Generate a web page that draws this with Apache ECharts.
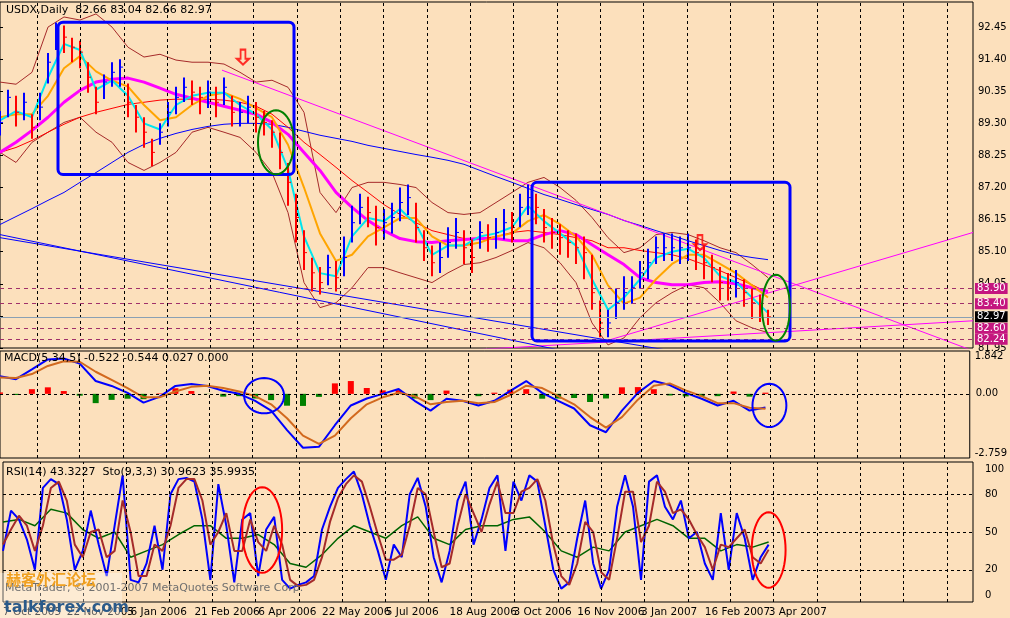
<!DOCTYPE html>
<html><head><meta charset="utf-8">
<script src="https://cdn.jsdelivr.net/npm/echarts@6/dist/echarts.min.js"></script>
<style>html,body{margin:0;padding:0;background:#fce0bc}#c{width:1010px;height:618px}</style>
</head><body><div id="c"></div>
<script>
// ---------- DATA ----------
const dateLabels = ['7 Oct 2005','22 Nov 2005','6 Jan 2006','21 Feb 2006','6 Apr 2006','22 May 2006','5 Jul 2006','18 Aug 2006','3 Oct 2006','16 Nov 2006','3 Jan 2007','16 Feb 2007','3 Apr 2007'];
const barStep = 4;   // price bars sampled every 4 trading days
const lineStep = 8;  // indicator lines sampled every 8 trading days
const closes = [89.33,90.15,89.66,89.99,89.17,89.83,91.30,92.29,92.12,91.79,
91.63,90.81,89.99,90.65,90.97,91.14,89.99,89.50,89.01,88.35,
89.01,89.66,90.15,90.48,90.32,90.15,90.32,89.99,90.48,89.66,
89.66,89.83,89.50,89.33,89.01,88.35,87.37,86.22,85.07,84.41,
84.09,84.58,84.25,84.91,86.05,86.55,86.38,85.89,86.05,86.22,
86.71,86.87,85.89,85.23,84.74,84.91,85.40,85.73,85.23,84.91,
85.73,85.56,85.73,86.05,85.89,86.55,86.87,86.55,85.89,85.73,
85.56,85.40,85.23,85.07,83.76,82.77,82.77,83.43,83.76,83.92,
84.41,84.74,85.23,85.23,85.23,85.23,85.23,85.07,84.74,84.58,
84.09,83.92,84.09,83.76,83.43,83.27,82.97];
const highs = [89.7,90.4,90.2,90.3,89.6,90.3,91.6,92.6,92.5,92.1,
92.0,91.3,90.5,90.9,91.3,91.4,90.6,89.9,89.5,88.8,
89.3,90.0,90.5,90.8,90.7,90.5,90.7,90.5,90.8,90.2,
90.0,90.2,90.0,89.7,89.4,89.0,88.0,87.0,85.8,84.9,
84.6,85.0,84.8,85.6,86.6,87.0,86.9,86.6,86.5,86.7,
87.2,87.3,86.7,85.8,85.3,85.4,85.9,86.2,85.8,85.5,
86.1,86.0,86.2,86.5,86.4,87.0,87.3,87.0,86.5,86.2,
86.0,85.8,85.7,85.6,85.0,83.5,83.2,83.9,84.3,84.3,
84.8,85.2,85.6,85.7,85.7,85.6,85.7,85.5,85.3,85.0,
84.6,84.4,84.5,84.2,83.9,83.7,83.2];
const lows = [88.9,89.5,89.2,89.4,88.8,89.4,90.6,91.7,91.6,91.3,
91.1,90.3,89.6,90.1,90.5,90.5,89.5,89.0,88.5,87.9,
88.6,89.2,89.6,90.0,89.9,89.6,89.8,89.5,89.9,89.2,
89.2,89.3,89.0,88.9,88.5,87.8,86.6,85.4,84.5,83.8,
83.7,84.0,83.8,84.3,85.4,86.0,85.9,85.3,85.5,85.7,
86.1,86.3,85.4,84.8,84.3,84.4,84.9,85.2,84.7,84.4,
85.2,85.1,85.2,85.5,85.4,85.9,86.3,86.0,85.4,85.2,
85.0,84.9,84.7,84.2,83.2,82.3,82.3,82.9,83.2,83.4,
83.9,84.2,84.7,84.8,84.8,84.7,84.8,84.5,84.2,84.1,
83.5,83.5,83.6,83.3,82.9,82.8,82.7];
const maFast = [89.4,89.7,89.5,90.8,91.9,91.7,90.4,90.7,90.2,89.3,89.1,89.9,90.2,90.3,90.3,89.9,89.6,89.1,87.8,85.6,84.4,84.3,85.6,86.2,86.1,86.5,86.0,85.0,85.3,85.3,85.6,85.7,85.9,86.6,86.1,85.7,85.3,84.2,83.2,83.6,84.2,84.9,85.1,85.2,84.9,84.3,84.1,83.6,83.1];
const maMid = [89.5,89.6,89.6,90.2,91.1,91.5,91.0,90.7,90.5,89.9,89.4,89.5,89.9,90.2,90.3,90.1,89.8,89.5,88.6,87.2,85.7,84.8,85.0,85.6,85.9,86.2,86.2,85.6,85.3,85.3,85.4,85.6,85.7,86.1,86.3,86.0,85.6,85.0,84.0,83.4,83.6,84.2,84.7,85.0,85.0,84.7,84.4,84.0,83.6];
const maMagenta = [88.35,88.68,89.07,89.50,89.99,90.38,90.65,90.74,90.78,90.65,90.45,90.25,90.12,89.99,89.86,89.73,89.60,89.33,88.94,88.35,87.76,87.04,86.55,86.12,85.79,85.53,85.43,85.40,85.46,85.50,85.53,85.53,85.46,85.46,85.66,85.79,85.66,85.33,85.00,84.68,84.25,84.09,84.02,84.02,84.09,84.12,84.05,83.92,83.80];
const maRed = [88.35,88.51,88.74,89.01,89.27,89.50,89.66,89.79,89.92,89.99,90.06,90.09,90.09,90.09,90.06,89.99,89.86,89.60,89.17,88.68,88.28,87.86,87.43,87.04,86.64,86.32,86.05,85.79,85.66,85.53,85.53,85.59,85.73,85.79,85.73,85.66,85.56,85.46,85.23,85.23,85.14,85.07,85.00,84.87,84.68,84.48,84.25,84.02,83.76];
const maBlue = [85.99,86.25,86.51,86.78,87.04,87.37,87.69,88.02,88.35,88.61,88.81,88.97,89.10,89.20,89.27,89.30,89.30,89.27,89.17,89.04,88.91,88.81,88.71,88.58,88.48,88.38,88.28,88.19,88.09,87.96,87.76,87.56,87.37,87.17,86.97,86.81,86.64,86.48,86.32,86.12,85.96,85.79,85.63,85.46,85.30,85.14,85.00,84.91,84.84];
const bandUpper = [90.65,90.58,90.97,92.45,92.78,92.68,92.88,92.45,91.79,91.47,91.56,91.37,91.30,91.30,91.24,90.97,90.65,90.71,90.48,89.66,87.04,86.38,87.20,87.37,87.37,87.30,87.20,86.71,86.38,86.32,86.38,86.71,87.04,87.37,87.53,87.20,86.78,86.22,85.56,85.07,85.23,85.66,85.73,85.66,85.46,85.23,85.07,84.68,84.25];
const bandLower = [88.35,88.02,88.68,89.01,89.33,89.50,89.01,88.68,88.02,87.76,88.02,88.35,89.01,89.17,89.01,88.84,88.35,87.69,86.38,84.09,83.27,83.43,83.92,84.58,84.58,84.41,84.25,84.09,84.41,84.68,84.74,84.91,85.14,85.40,85.23,84.74,84.09,82.77,82.05,82.28,82.94,83.43,83.76,84.02,83.92,83.43,82.84,82.61,82.45];
const macdLine = [0.76,0.63,1.05,1.48,1.52,1.30,0.55,0.34,0.04,-0.38,-0.13,0.34,0.42,0.34,0.13,0.00,-0.30,-0.72,-1.56,-2.32,-2.28,-1.35,-0.50,-0.20,0.00,0.21,-0.30,-0.72,-0.21,-0.30,-0.50,-0.30,0.13,0.55,0.04,-0.30,-0.63,-1.35,-1.65,-0.72,0.04,0.55,0.38,0.04,-0.21,-0.50,-0.30,-0.72,-0.59];
const macdSignal = [0.70,0.68,0.85,1.20,1.40,1.38,0.95,0.60,0.25,-0.15,-0.15,0.10,0.30,0.35,0.25,0.10,-0.10,-0.45,-1.05,-1.80,-2.15,-1.80,-1.05,-0.45,-0.15,0.05,-0.10,-0.45,-0.35,-0.30,-0.40,-0.35,-0.05,0.35,0.25,-0.10,-0.45,-1.00,-1.45,-1.00,-0.25,0.35,0.45,0.15,-0.10,-0.40,-0.40,-0.60,-0.64];
const macdHist = [0.06,-0.05,0.20,0.28,0.12,-0.08,-0.40,-0.26,-0.21,-0.23,0.02,0.24,0.12,-0.01,-0.12,-0.10,-0.20,-0.27,-0.51,-0.52,-0.13,0.45,0.55,0.25,0.15,0.16,-0.20,-0.27,0.14,0.00,-0.10,0.05,0.18,0.20,-0.21,-0.20,-0.18,-0.35,-0.20,0.28,0.29,0.20,-0.07,-0.11,-0.11,-0.10,0.10,-0.12,0.05];
const rsi = [58,60,55,68,65,52,45,50,30,35,40,48,55,55,45,45,48,40,25,22,32,45,55,50,45,55,62,45,40,52,55,55,60,62,50,35,30,38,35,50,55,60,55,45,45,35,40,38,42];
const stoMain = [35,67,60,44,20,85,92,88,60,20,35,67,40,15,55,95,12,10,25,55,20,80,92,93,90,60,12,88,55,10,60,65,15,52,62,12,5,8,10,15,52,70,85,92,98,80,55,35,12,40,30,80,93,70,30,10,35,75,90,40,60,85,95,35,90,75,95,90,55,20,5,10,45,75,25,5,20,70,95,70,12,90,95,70,60,75,45,50,25,12,65,20,65,45,12,30,40];
const stoSignal = [40,52,63,55,35,55,85,90,75,40,30,50,52,30,35,75,50,15,15,40,35,55,85,92,92,75,40,50,65,35,35,60,42,35,55,40,12,7,8,12,30,58,77,88,95,90,70,48,28,28,32,55,85,80,50,22,25,55,80,65,50,72,90,65,65,82,85,92,75,40,15,8,25,58,50,18,12,45,82,82,42,55,90,82,65,68,60,48,38,20,40,38,45,52,30,25,36];
const priceLevels = [83.90,83.40,82.60,82.24];
const lastPrice = 82.97;
const rsiLevels = [20,50,80];
const rsiLabels = [0,20,50,80,100];
// drawn objects (in bar index / value units)
const trendMagenta = [[[111,91.04],[486.5,81.86]],[[305,82.22],[486.5,85.73]],[[210,81.79],[486.5,82.84]]];
const trendBlue = [[[0,85.66],[281.5,81.86]],[[0,85.56],[339,81.82]]];
const boxes = [[29,92.61,147,87.63],[266,87.37,395,82.18]];
const priceEllipses = [[138,88.68,9,1.05],[388,83.27,7,1.08]];
const macdEllipses = [[132.5,-0.08,10,0.76],[386,-0.5,8.5,0.93]];
const rsiEllipses = [[130,51.6,10,34],[384,35.7,8.5,30]];
const arrows = [[121.5,91.47],[350,85.40]];
const vGrid = [18.5,40,62,83.5,105,126.5,148.5,170,191.5,213.5,235,256.5,278.5,300,321.5,343.5,365,386.5,408.5,430,451.5,473.5];

// ---------- BUILD ----------
const X_MAX = 486.5;
const bx = closes.map((c,i)=>i*barStep);
const lx = maFast.map((c,i)=>i*lineStep);
const pair = (arr)=>arr.map((v,i)=>[lx[i],v]);
const stoPair = (arr)=>arr.map((v,i)=>[bx[i],v]);
const barData = closes.map((c,i)=>[bx[i],highs[i],lows[i],c, i>0?closes[i-1]:c]);
const vLines = vGrid.map(v=>({xAxis:v}));
const gridMark = {silent:true,symbol:'none',label:{show:false},lineStyle:{color:'#000',type:[3,3],width:1},data:vLines,animation:false};
const F = 'DejaVu Sans';

function ellipseSeries(data,xi,yi,color){
  return {type:'custom',xAxisIndex:xi,yAxisIndex:yi,data:data,z:10,silent:true,
    renderItem:(p,api)=>{
      const cx=api.value(0),cy=api.value(1),rx=api.value(2),ry=api.value(3);
      const c=api.coord([cx,cy]);const e=api.coord([cx+rx,cy+ry]);
      const a=Math.abs(e[0]-c[0]),b=Math.abs(e[1]-c[1]);
      const pts=[];for(let k=0;k<48;k++){const t=k/48*Math.PI*2;pts.push([c[0]+a*Math.cos(t),c[1]+b*Math.sin(t)]);}
      return {type:'polygon',shape:{points:pts},style:{fill:'none',stroke:color,lineWidth:2}};
    }};
}
function lineS(name,data,xi,yi,color,w){return {name,type:'line',xAxisIndex:xi,yAxisIndex:yi,data,symbol:'none',lineStyle:{color,width:w||1},silent:true,z:3};}

const series = [];
series.push({type:'custom',xAxisIndex:0,yAxisIndex:0,data:barData,z:4,silent:true,
  renderItem:(p,api)=>{
    const x=api.value(0),h=api.value(1),l=api.value(2),c=api.value(3),pc=api.value(4);
    const ph=api.coord([x,h]),pl=api.coord([x,l]),pcl=api.coord([x,c]);
    const col=c>=pc?'#0000ff':'#ff0000';
    return {type:'group',children:[
      {type:'line',shape:{x1:ph[0],y1:ph[1],x2:pl[0],y2:pl[1]},style:{stroke:col,lineWidth:2}},
      {type:'line',shape:{x1:pcl[0],y1:pcl[1],x2:pcl[0]+3,y2:pcl[1]},style:{stroke:col,lineWidth:1}}]};
  },
  markLine:gridMark});
series.push(lineS('bu',pair(bandUpper),0,0,'#a52a2a',1));
series.push(lineS('bl',pair(bandLower),0,0,'#a52a2a',1));
series.push(lineS('blue',pair(maBlue),0,0,'#0000ff',1));
series.push(lineS('red',pair(maRed),0,0,'#ff0000',1));
series.push(lineS('mag',pair(maMagenta),0,0,'#ff00ff',3));
series.push(lineS('orange',pair(maMid),0,0,'#ffa500',2));
series.push(lineS('cyan',pair(maFast),0,0,'#00e5ee',2));
trendMagenta.forEach(t=>series.push(lineS('tm',t,0,0,'#ff00ff',1)));
trendBlue.forEach(t=>series.push(lineS('tb',t,0,0,'#0000ff',1)));
const tag = (v,bg)=>({yAxis:v,label:{show:true,position:'end',formatter:v.toFixed(2),backgroundColor:bg,color:'#fff',padding:[1,2,0,2],fontSize:10,fontFamily:F,distance:2}});
series.push({type:'line',xAxisIndex:0,yAxisIndex:0,data:[],z:8,
  markLine:{silent:true,symbol:'none',animation:false,
    data:priceLevels.map(v=>Object.assign(tag(v,'#c4167f'),{lineStyle:{color:'#a0306a',type:[4,4],width:1}}))
      .concat([Object.assign(tag(lastPrice,'#000'),{lineStyle:{color:'#8aa0b4',type:'solid',width:1}})])}});
series.push({type:'custom',xAxisIndex:0,yAxisIndex:0,data:boxes,z:9,silent:true,
  renderItem:(p,api)=>{const a=api.coord([api.value(0),api.value(1)]),b=api.coord([api.value(2),api.value(3)]);
    return {type:'rect',shape:{x:a[0],y:a[1],width:b[0]-a[0],height:b[1]-a[1],r:5},style:{fill:'none',stroke:'#0000ff',lineWidth:3}};}});
series.push(ellipseSeries(priceEllipses,0,0,'#008000'));
series.push({type:'scatter',xAxisIndex:0,yAxisIndex:0,data:arrows,z:9,silent:true,
  symbol:'path://M3,0 L7,0 L7,8 L10,8 L5,13 L0,8 L3,8 Z',symbolSize:[12,15],
  itemStyle:{color:'rgba(0,0,0,0)',borderColor:'#ff0000',borderWidth:2}});
series.push({type:'bar',xAxisIndex:1,yAxisIndex:1,barWidth:6,silent:true,
  data:macdHist.map((v,i)=>({value:[lx[i],v],itemStyle:{color:v>=0?'#ff0000':'#008000'}})),
  markLine:{silent:true,symbol:'none',animation:false,data:vLines.concat([{yAxis:0,label:{show:true,position:'end',formatter:'0.00',color:'#000',fontSize:10,fontFamily:F,distance:6}}]),label:{show:false},lineStyle:{color:'#000',type:[3,3],width:1}}});
series.push(lineS('macd',pair(macdLine),1,1,'#0000ff',2));
series.push(lineS('sig',pair(macdSignal),1,1,'#d2691e',2));
series.push(ellipseSeries(macdEllipses,1,1,'#0000ff'));
series.push(Object.assign(lineS('rsi',pair(rsi),2,2,'#006400',1.5),{
  markLine:{silent:true,symbol:'none',animation:false,
    data:vLines.concat(rsiLabels.map(v=>({yAxis:v,lineStyle:{color:rsiLevels.indexOf(v)>=0?'#000':'rgba(0,0,0,0)'},
      label:{show:true,position:'end',formatter:String(v),color:'#000',fontSize:10,fontFamily:F,distance:12}}))),
    label:{show:false},lineStyle:{color:'#000',type:[3,3],width:1}}}));
series.push(lineS('sto',stoPair(stoMain),2,2,'#0000ff',2));
series.push(lineS('stos',stoPair(stoSignal),2,2,'#a52a2a',2));
series.push(ellipseSeries(rsiEllipses,2,2,'#ff0000'));

const gridBase = {left:0,right:37,show:true,borderColor:'#000',borderWidth:1,backgroundColor:'transparent'};
const xBase = (i,show)=>({type:'value',gridIndex:i,min:0,max:X_MAX,interval:32,
  axisLine:{show:false},axisTick:{show:false},splitLine:{show:false},
  axisLabel:{show:show,align:'left',color:'#000',fontSize:10.5,fontFamily:F,margin:5,showMaxLabel:false,
    formatter:v=>dateLabels[Math.round(v/32)]||''}});
const yBase = (i,o)=>Object.assign({type:'value',gridIndex:i,position:'right',scale:true,
  axisLine:{show:false},splitLine:{show:false},axisTick:{show:true,length:3,lineStyle:{color:'#000'}},
  axisLabel:{color:'#000',fontSize:10,fontFamily:F,margin:5}},o);

const chart = echarts.init(document.getElementById('c'));
chart.setOption({
  backgroundColor:'#fce0bc',animation:false,
  grid:[Object.assign({top:2,height:346},gridBase),Object.assign({top:351,height:107},gridBase),Object.assign({top:462,height:140},gridBase)],
  xAxis:[xBase(0,false),xBase(1,false),xBase(2,true)],
  yAxis:[
    yBase(0,{min:81.95,max:93.27,interval:1.05,axisLabel:{color:'#000',fontSize:10,fontFamily:F,margin:5,showMaxLabel:false,formatter:v=>v.toFixed(2)}}),
    yBase(1,{min:-2.759,max:1.842,interval:4.601,axisTick:{show:false},axisLabel:{color:'#000',fontSize:10,fontFamily:F,margin:5,verticalAlignMaxLabel:'top',verticalAlignMinLabel:'bottom',formatter:v=>v.toFixed(3)}}),
    yBase(2,{min:-5.6,max:105.6,axisTick:{show:false},axisLabel:{show:false}})
  ],
  series:series,
  graphic:[
    {type:'text',left:6,top:5,style:{text:'USDX,Daily  82.66 83.04 82.66 82.97',fill:'#000',font:'11px "DejaVu Sans"'},z:100},
    {type:'text',left:4,top:353,style:{text:'MACD(5,34,5) -0.522 -0.544 0.027 0.000',fill:'#000',font:'11px "DejaVu Sans"'},z:100},
    {type:'text',left:6,top:467,style:{text:'RSI(14) 43.3227  Sto(9,3,3) 30.9623 35.9935',fill:'#000',font:'11px "DejaVu Sans"'},z:100},
    {type:'text',left:5,top:583,style:{text:'MetaTrader, © 2001-2007 MetaQuotes Software Corp.',fill:'#6f6f6f',font:'11px "DejaVu Sans"'},z:100},
    {type:'rect',left:0,top:573,shape:{width:122,height:45},style:{fill:'rgba(255,255,255,0.35)'},z:99},
    {type:'text',left:6,top:572,style:{text:'赫客外汇论坛',fill:'#f0a020',font:'bold 15px "Noto Sans CJK SC"'},z:101},
    {type:'text',left:4,top:600,style:{text:'talkforex.com',fill:'#2a5a8a',font:'bold 16px "DejaVu Sans"'},z:101}
  ]
});
</script></body></html>
